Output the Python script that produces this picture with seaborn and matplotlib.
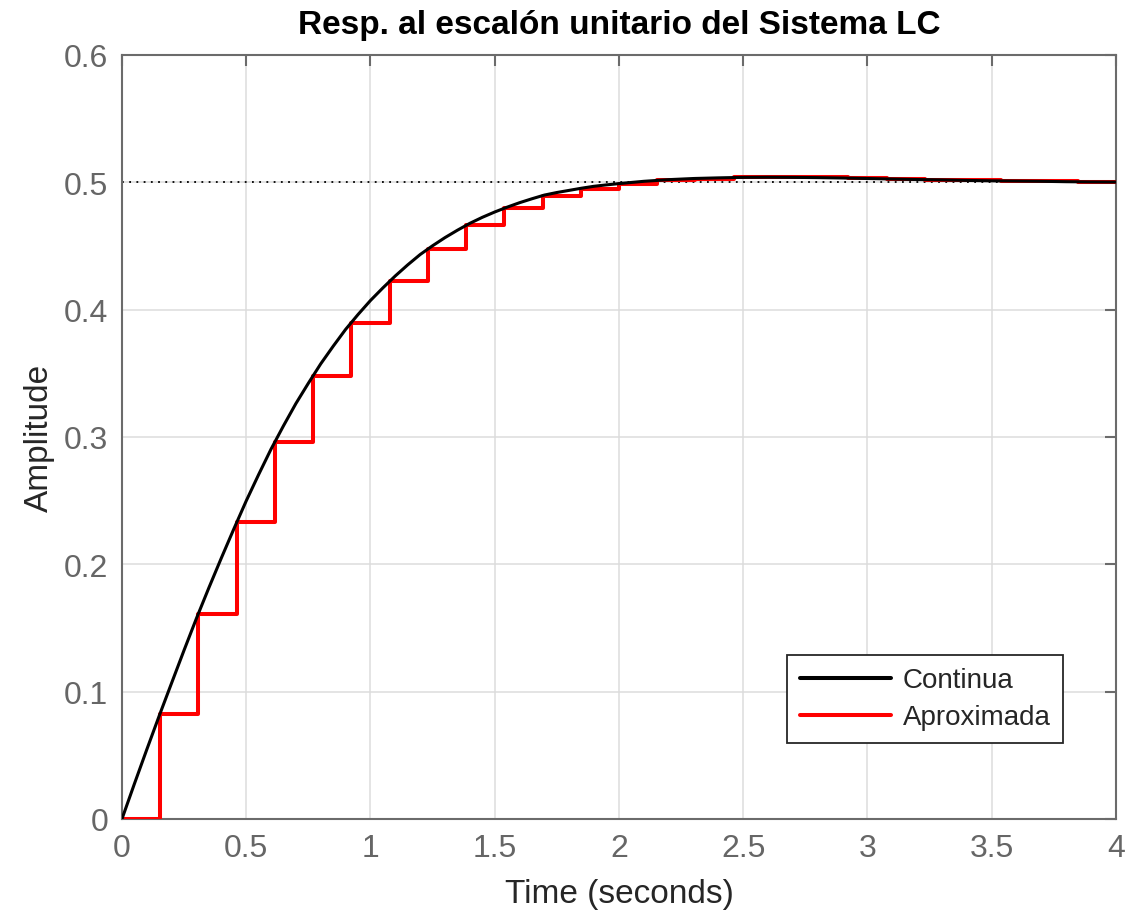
import numpy as np
import pandas as pd
import matplotlib
matplotlib.use('Agg')
import matplotlib.pyplot as plt
import seaborn as sns
from matplotlib.lines import Line2D

# Continuous step response
t_cont = [0.0, 0.05, 0.1, 0.15, 0.2, 0.25, 0.3, 0.35, 0.4, 0.45,
          0.5, 0.55, 0.6, 0.65, 0.7, 0.75, 0.8, 0.85, 0.9, 0.95,
          1.0, 1.05, 1.1, 1.15, 1.2, 1.25, 1.3, 1.35, 1.4, 1.45,
          1.5, 1.55, 1.6, 1.65, 1.7, 1.75, 1.8, 1.85, 1.9, 1.95,
          2.0, 2.1, 2.2, 2.3, 2.4, 2.5, 2.6, 2.7, 2.8, 2.9,
          3.0, 3.1, 3.2, 3.3, 3.4, 3.5, 3.6, 3.7, 3.8, 3.9, 4.0]
y_cont = [0.0, 0.0276, 0.0546, 0.0811, 0.1069, 0.1326, 0.1577, 0.1817, 0.2050, 0.2277,
          0.2498, 0.2705, 0.2905, 0.3088, 0.3263, 0.3422, 0.3575, 0.3713, 0.3845, 0.3962,
          0.4072, 0.4171, 0.4265, 0.4352, 0.4433, 0.4502, 0.4566, 0.4624, 0.4678, 0.4725,
          0.4767, 0.4805, 0.4840, 0.4871, 0.4900, 0.4920, 0.4937, 0.4954, 0.4969, 0.4980,
          0.4990, 0.5008, 0.5021, 0.5030, 0.5035, 0.5039, 0.5040, 0.5039, 0.5037, 0.5034,
          0.5030, 0.5026, 0.5022, 0.5019, 0.5015, 0.5012, 0.5010, 0.5008, 0.5005, 0.5003, 0.5002]

# Discrete (ZOH) approximation, sample instants and held values
t_disc = [0.0, 0.1538, 0.3077, 0.4615, 0.6154, 0.7692, 0.9231, 1.0769, 1.2308,
          1.3846, 1.5385, 1.6923, 1.8462, 2.0, 2.1538, 2.3077, 2.4615, 2.6154,
          2.7692, 2.9231, 3.0769, 3.2308, 3.3846, 3.5385, 3.6923, 3.8462, 4.0]
y_disc = [0.0, 0.0824, 0.1612, 0.2332, 0.2958, 0.3478, 0.3897, 0.4224, 0.4476,
          0.4663, 0.4796, 0.4893, 0.4951, 0.4990, 0.5016, 0.5030, 0.5038, 0.5040,
          0.5038, 0.5033, 0.5027, 0.5021, 0.5016, 0.5011, 0.5008, 0.5004, 0.5004]

final_value = 0.5
x_ticks = [0, 0.5, 1, 1.5, 2, 2.5, 3, 3.5, 4]
x_labels = ['0', '0.5', '1', '1.5', '2', '2.5', '3', '3.5', '4']
y_ticks = [0, 0.1, 0.2, 0.3, 0.4, 0.5, 0.6]
y_labels = ['0', '0.1', '0.2', '0.3', '0.4', '0.5', '0.6']

df_cont = pd.DataFrame({'t': t_cont, 'y': y_cont})
df_disc = pd.DataFrame({'t': t_disc, 'y': y_disc})

sns.set_style('white')
plt.rcParams['font.family'] = ['Liberation Sans', 'DejaVu Sans']

fig = plt.figure(figsize=(11.42, 9.12), dpi=100)
ax = fig.add_axes([0.1068, 0.1009, 0.8704, 0.8377])

# steady-state dotted line
ax.plot([0, 4], [final_value, final_value], color='black', linestyle=(0, (1, 3)),
        linewidth=1.3, zorder=2)

sns.lineplot(data=df_disc, x='t', y='y', ax=ax, color='red', linewidth=2.9,
             drawstyle='steps-post', estimator=None, sort=False, zorder=3)
sns.lineplot(data=df_cont, x='t', y='y', ax=ax, color='black', linewidth=2.2,
             estimator=None, sort=False, zorder=4)

ax.set_xlim(0, 4)
ax.set_ylim(0, 0.6)
ax.set_xticks(x_ticks)
ax.set_xticklabels(x_labels)
ax.set_yticks(y_ticks)
ax.set_yticklabels(y_labels)

ax.grid(True, color='#dcdcdc', linewidth=1.1)
ax.set_axisbelow(True)
for s in ax.spines.values():
    s.set_color('#6b6b6b')
    s.set_linewidth(1.5)
    s.set_visible(True)
ax.tick_params(direction='in', length=8, width=1.5, colors='#6b6b6b',
               labelsize=23, labelcolor='#666666', top=True, right=True, pad=10)

ax.set_title('Resp. al escalón unitario del Sistema LC', fontsize=24,
             fontweight='bold', color='black', pad=16)
ax.set_xlabel('Time (seconds)', fontsize=24, color='#262626', labelpad=11)
ax.set_ylabel('Amplitude', fontsize=24, color='#262626', labelpad=6)

handles = [Line2D([], [], color='black', linewidth=2.9),
           Line2D([], [], color='red', linewidth=2.9)]
leg = ax.legend(handles, ['Continua', 'Aproximada'], loc='lower right',
                bbox_to_anchor=(0.9467, 0.0995), borderaxespad=0, fontsize=20,
                frameon=True, fancybox=False, edgecolor='#262626', framealpha=1,
                handlelength=3.3, handletextpad=0.4, borderpad=0.45,
                labelspacing=0.4)
leg.get_frame().set_linewidth(1.3)

fig.savefig('out.png', dpi=100)
